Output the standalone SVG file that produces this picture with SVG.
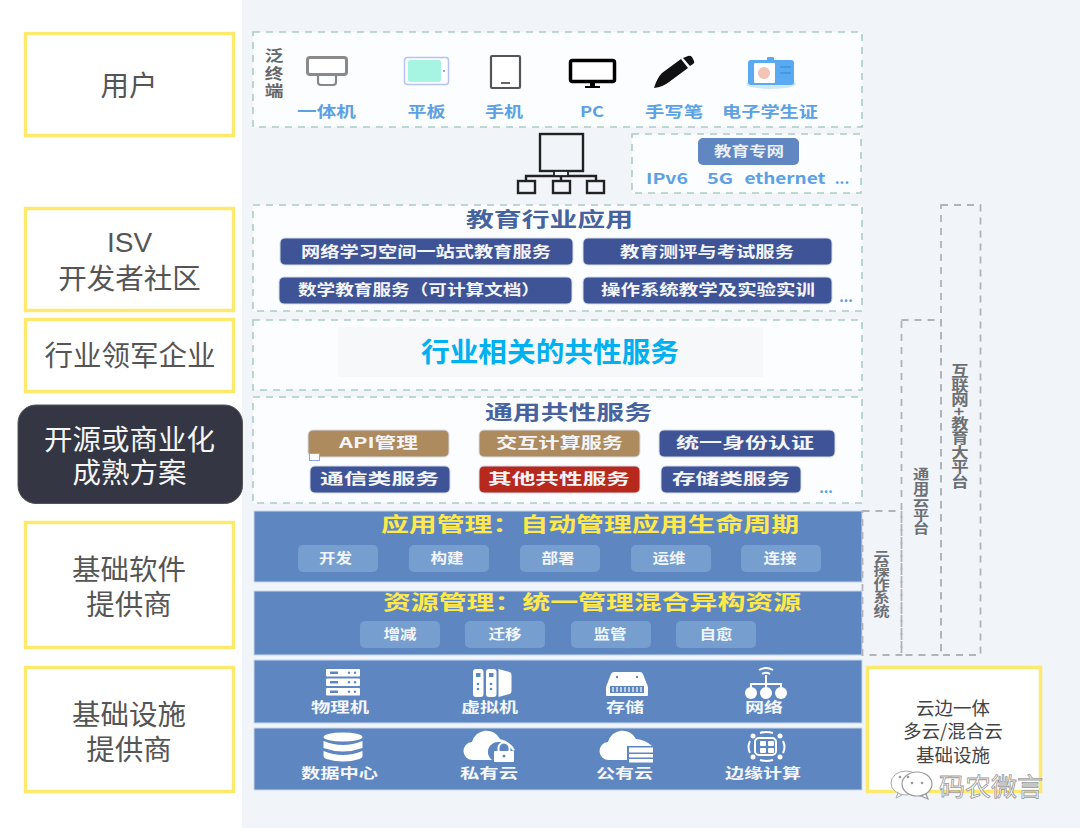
<svg xmlns="http://www.w3.org/2000/svg" width="1080" height="832" viewBox="0 0 1080 832">
<style>
text{font-family:"Noto Sans CJK SC","Noto Sans",sans-serif;text-anchor:middle;dominant-baseline:central;transform:translateY(-1.5px)}
.role{fill:#fff;stroke:#fde96c;stroke-width:3.5}
.roleT{font-size:28.5px;fill:#555}
.latin{font-family:"Liberation Sans",Arial,sans-serif;font-size:28px}
.zone{fill:#fcfdff;stroke:#a9cdc6;stroke-width:1.6;stroke-dasharray:7 6}
.side{fill:none;stroke:#b0b4b8;stroke-width:1.8;stroke-dasharray:7 6}
.sideT{font-size:13.5px;font-weight:700;fill:#6d7073;writing-mode:vertical-rl}
.band{fill:#5e87c2;stroke:#c6d6ec;stroke-width:1}
.dev{font-size:15px;font-weight:700;fill:#5ba1e3}
.head{font-size:20px;font-weight:700;fill:#46639f}
.chip{stroke:#d5dcec;stroke-width:1}
.navy{fill:#3f5496}.tan{fill:#ad8b5e}.red{fill:#b7281d}
.chipT{font-size:15px;font-weight:700;fill:#f4f5f8}
.gold{font-size:20px;font-weight:700;fill:#ffe94a}
.pill{fill:#769fd0}
.pillT{font-size:14px;font-weight:700;fill:#f2f5fa}
.infra{font-size:14px;font-weight:700;fill:#f4f6fb}
.ico{fill:#fff}
.cut{fill:#5e87c2}
.ln{fill:none;stroke:#fff;stroke-width:2}
.dots{font-size:14px;font-weight:700;fill:#5ba1e3}
</style>

<rect width="1080" height="832" fill="#fff"/>
<rect x="242" y="0" width="838" height="828" fill="#f1f5fa"/>

<!-- roles down the left edge -->
<g id="role-user"><rect class="role" x="25.5" y="33.5" width="208" height="102"/><text class="roleT" x="129" y="85">用户</text></g>
<g id="role-isv"><rect class="role" x="25.5" y="208.5" width="208" height="102"/><text class="roleT" x="129" y="243"><tspan class="latin" x="129.500">ISV</tspan><tspan x="129.500" dy="34">开发者社区</tspan></text></g>
<g id="role-leader"><rect class="role" x="25.5" y="319.5" width="208" height="72"/><text class="roleT" x="130" y="355">行业领军企业</text></g>
<g id="role-oss"><rect x="18" y="405" width="224.500" height="98.500" rx="18" fill="#343644" stroke="#555" stroke-width="1"/><text class="roleT" y="438" style="fill:#f5f5f5"><tspan x="129.500">开源或商业化</tspan><tspan x="129.500" dy="33">成熟方案</tspan></text></g>
<g id="role-software"><rect class="role" x="25.500" y="522.500" width="208" height="125"/><text class="roleT" y="568"><tspan x="129">基础软件</tspan><tspan x="129" dy="35">提供商</tspan></text></g>
<g id="role-infra"><rect class="role" x="25.500" y="667.500" width="208" height="124"/><text class="roleT" y="713"><tspan x="129">基础设施</tspan><tspan x="129" dy="35">提供商</tspan></text></g>

<!-- terminals -->
<g id="terminals">
<rect class="zone" x="253" y="32" width="609" height="95"/>
<g transform="translate(274 0) scale(1.25 1)"><text x="0" y="76" font-size="15" font-weight="700" fill="#666" letter-spacing="2.500" style="writing-mode:vertical-rl">泛终端</text></g>
<rect x="307.500" y="57.500" width="39" height="17" rx="2.500" fill="#fff" stroke="#8a8a8a" stroke-width="3"/>
<path d="M318 75v7q0 3 3 3h12q3 0 3-3v-7" fill="none" stroke="#888" stroke-width="2.200"/>
<rect x="404.500" y="57.500" width="44" height="27" rx="3" fill="#fff" stroke="#b5c2f2" stroke-width="1.500"/>
<rect x="408" y="60" width="33" height="22" rx="2" fill="#a6f5e2"/>
<circle cx="444" cy="71" r="1" fill="#6f86e6"/>
<rect x="491" y="56" width="29" height="32" rx="1" fill="#fff" stroke="#555" stroke-width="2.200"/>
<rect x="501" y="82" width="9" height="2" fill="#666"/>
<rect x="570.500" y="60.500" width="44" height="21" rx="2" fill="#fff" stroke="#000" stroke-width="3.500"/>
<path d="M590 82h5v4h5v2h-15v-2h5z" fill="#000"/>
<path d="M654 88q3-10 8-15l19-14 7 9-19 14q-6 5-15 6z" fill="#111"/>
<path d="M683 58l5-2q2-1 4 1l2 4q1 2-1 3l-3 2z" fill="#111"/>
<ellipse cx="771" cy="84" rx="25" ry="5" fill="#cfe8f8"/>
<rect x="748" y="60" width="46" height="25" rx="3" fill="#5aaaf2"/>
<rect x="767" y="57" width="7" height="4" rx="1" fill="#5aaaf2"/>
<rect x="754" y="63" width="21" height="20" rx="1" fill="#fff"/>
<circle cx="764" cy="73" r="6" fill="#f3c3b4"/>
<path d="M780 67h11M780 73h11" stroke="#2f86d8" stroke-width="1"/>
<text class="dev" x="326.500" y="112" textLength="59" lengthAdjust="spacingAndGlyphs">一体机</text>
<text class="dev" x="426.500" y="112" textLength="38" lengthAdjust="spacingAndGlyphs">平板</text>
<text class="dev" x="504" y="112" textLength="38" lengthAdjust="spacingAndGlyphs">手机</text>
<text class="dev" x="592" y="112" textLength="24" lengthAdjust="spacingAndGlyphs">PC</text>
<text class="dev" x="674" y="112" textLength="58" lengthAdjust="spacingAndGlyphs">手写笔</text>
<text class="dev" x="770" y="112" textLength="96" lengthAdjust="spacingAndGlyphs">电子学生证</text>
</g>

<!-- access network symbol -->
<g id="network-symbol" fill="none" stroke="#222" stroke-width="2.400">
<rect x="540" y="134" width="43" height="37"/>
<path d="M561 171v6M526 181v-5h70v5M561 176v5"/>
<rect x="554" y="171" width="14" height="5" fill="#f1f5fa" stroke-width="1.800"/>
<rect x="518" y="181" width="17" height="12"/><rect x="553" y="181" width="17" height="12"/><rect x="587" y="181" width="17" height="12"/>
</g>

<g id="edu-network">
<rect class="zone" x="632" y="134" width="229" height="59"/>
<rect x="698" y="138" width="101" height="27" rx="5" fill="#6087c2"/>
<text x="749" y="151" font-size="14" font-weight="700" fill="#e9eef7" textLength="70" lengthAdjust="spacingAndGlyphs">教育专网</text>
<text class="dev" x="667" y="179" textLength="42" lengthAdjust="spacingAndGlyphs">IPv6</text>
<text class="dev" x="720" y="179" textLength="26" lengthAdjust="spacingAndGlyphs">5G</text>
<text class="dev" x="785" y="179" textLength="81" lengthAdjust="spacingAndGlyphs">ethernet</text>
<text class="dev" x="842" y="179">...</text>
</g>

<!-- education applications -->
<g id="edu-apps">
<rect class="zone" x="253" y="205" width="609" height="106"/>
<text class="head" x="549.500" y="220" textLength="167" lengthAdjust="spacingAndGlyphs">教育行业应用</text>
<rect class="chip navy" x="280" y="238" width="293" height="27" rx="5"/>
<text class="chipT" x="426" y="251.500" textLength="250" lengthAdjust="spacingAndGlyphs">网络学习空间一站式教育服务</text>
<rect class="chip navy" x="583" y="238" width="249" height="27" rx="5"/>
<text class="chipT" x="707" y="251.500" textLength="174" lengthAdjust="spacingAndGlyphs">教育测评与考试服务</text>
<rect class="chip navy" x="279" y="277" width="293" height="27" rx="5"/>
<text class="chipT" x="419" y="290" textLength="242" lengthAdjust="spacingAndGlyphs">数学教育服务（可计算文档）</text>
<rect class="chip navy" x="583" y="277" width="249" height="27" rx="5"/>
<text class="chipT" x="708" y="290" textLength="214" lengthAdjust="spacingAndGlyphs">操作系统教学及实验实训</text>
<text class="dots" x="846" y="297">...</text>
</g>

<g id="industry-services">
<rect class="zone" x="253" y="320" width="609" height="70"/>
<rect x="338" y="327" width="425" height="50" fill="#f7f8fa"/>
<text x="550" y="352" font-size="27" font-weight="700" fill="#00b0f0" textLength="258" lengthAdjust="spacingAndGlyphs">行业相关的共性服务</text>
</g>

<!-- shared services -->
<g id="common-services">
<rect class="zone" x="253" y="397" width="609" height="106"/>
<text class="head" x="568.500" y="413" textLength="167" lengthAdjust="spacingAndGlyphs">通用共性服务</text>
<rect class="chip tan" x="308" y="430" width="141" height="27" rx="5"/>
<text class="chipT" x="378.500" y="443" textLength="79" lengthAdjust="spacingAndGlyphs">API管理</text>
<rect class="chip tan" x="479" y="430" width="161" height="27" rx="5"/>
<text class="chipT" x="559.500" y="443" textLength="127" lengthAdjust="spacingAndGlyphs">交互计算服务</text>
<rect class="chip navy" x="659" y="430" width="176" height="27" rx="5"/>
<text class="chipT" x="745" y="443" textLength="138" lengthAdjust="spacingAndGlyphs">统一身份认证</text>
<rect class="chip navy" x="310" y="466" width="140" height="27" rx="5"/>
<text class="chipT" x="379.500" y="479" textLength="119" lengthAdjust="spacingAndGlyphs">通信类服务</text>
<rect class="chip red" x="479" y="466" width="161" height="27" rx="5"/>
<text class="chipT" x="559" y="479" textLength="142" lengthAdjust="spacingAndGlyphs">其他共性服务</text>
<rect class="chip navy" x="661" y="466" width="140" height="27" rx="5"/>
<text class="chipT" x="731" y="479" textLength="118" lengthAdjust="spacingAndGlyphs">存储类服务</text>
<text class="dots" x="826" y="488">...</text>
<rect x="309.500" y="453.500" width="10" height="7" fill="#fff" stroke="#8fa4ee" stroke-width="1"/>
</g>

<!-- application management -->
<g id="app-management">
<rect class="band" x="254" y="511" width="608" height="71"/>
<text class="gold" x="590" y="525" textLength="418" lengthAdjust="spacingAndGlyphs">应用管理：自动管理应用生命周期</text>
<rect class="pill" x="298" y="545" width="80" height="27" rx="5"/><text class="pillT" x="335.500" y="558" textLength="33" lengthAdjust="spacingAndGlyphs">开发</text>
<rect class="pill" x="409" y="545" width="80" height="27" rx="5"/><text class="pillT" x="447" y="558" textLength="33" lengthAdjust="spacingAndGlyphs">构建</text>
<rect class="pill" x="520" y="545" width="80" height="27" rx="5"/><text class="pillT" x="558" y="558" textLength="33" lengthAdjust="spacingAndGlyphs">部署</text>
<rect class="pill" x="631" y="545" width="80" height="27" rx="5"/><text class="pillT" x="669" y="558" textLength="33" lengthAdjust="spacingAndGlyphs">运维</text>
<rect class="pill" x="741" y="545" width="80" height="27" rx="5"/><text class="pillT" x="780" y="558" textLength="33" lengthAdjust="spacingAndGlyphs">连接</text>
</g>

<!-- resource management -->
<g id="res-management">
<rect class="band" x="254" y="591" width="608" height="64"/>
<text class="gold" x="592" y="603" textLength="418" lengthAdjust="spacingAndGlyphs">资源管理：统一管理混合异构资源</text>
<rect class="pill" x="360" y="621" width="80" height="27" rx="5"/><text class="pillT" x="400" y="634" textLength="33" lengthAdjust="spacingAndGlyphs">增减</text>
<rect class="pill" x="465" y="621" width="80" height="27" rx="5"/><text class="pillT" x="505" y="634" textLength="33" lengthAdjust="spacingAndGlyphs">迁移</text>
<rect class="pill" x="571" y="621" width="80" height="27" rx="5"/><text class="pillT" x="610" y="634" textLength="33" lengthAdjust="spacingAndGlyphs">监管</text>
<rect class="pill" x="676" y="621" width="80" height="27" rx="5"/><text class="pillT" x="716" y="634" textLength="33" lengthAdjust="spacingAndGlyphs">自愈</text>
</g>

<!-- compute, storage and network -->
<g id="infra-row1">
<rect class="band" x="254" y="660" width="608" height="63"/>
<g class="ico">
<rect x="326" y="669" width="34" height="7.500" rx="1"/><rect x="326" y="678.500" width="34" height="7.500" rx="1"/><rect x="326" y="688" width="34" height="7.500" rx="1"/>
<rect x="473" y="669" width="10.500" height="28" rx="3"/><rect x="486" y="669" width="10.500" height="28" rx="3"/><path d="M498.500 669l11 3q2 .5 2 3v16q0 2.500-2 3l-11 3z"/>
<path d="M614 672h26q2 0 3 2l5 13v8q0 1-1 1h-40q-1 0-1-1v-8l5-13q1-2 3-2z"/>
</g>
<g class="cut">
<rect x="330" y="671.500" width="8" height="2.500"/><rect x="330" y="681" width="8" height="2.500"/><rect x="330" y="690.500" width="8" height="2.500"/>
<circle cx="349" cy="672.700" r="1.200"/><circle cx="355" cy="672.700" r="1.200"/><circle cx="349" cy="682.200" r="1.200"/><circle cx="355" cy="682.200" r="1.200"/><circle cx="349" cy="691.700" r="1.200"/><circle cx="355" cy="691.700" r="1.200"/>
<rect x="476" y="673" width="4.500" height="4"/><rect x="489" y="673" width="4.500" height="4"/>
<circle cx="478" cy="684" r="1.300"/><circle cx="478" cy="689" r="1.300"/><circle cx="491" cy="684" r="1.300"/><circle cx="491" cy="689" r="1.300"/>
<rect x="610" y="686" width="34" height="7"/>
<circle cx="617" cy="677" r="1.200"/><circle cx="637" cy="677" r="1.200"/>
</g>
<path d="M613 687v5M617 687v5M621 687v5M625 687v5M629 687v5M633 687v5M637 687v5M641 687v5" stroke="#fff" stroke-width="1.200"/>
<g class="ico"><circle cx="751" cy="693" r="6"/><circle cx="766" cy="693" r="6"/><circle cx="781" cy="693" r="6"/></g>
<path d="M751 689v-5h30v5M766 689v-14" class="ln"/>
<path d="M759 670q7-4 14 0" class="ln" stroke-width="1.600"/>
<path d="M762 674q4-2.500 8 0" class="ln" stroke-width="1.600"/>
<text class="infra" x="340" y="707" textLength="58" lengthAdjust="spacingAndGlyphs">物理机</text>
<text class="infra" x="489.500" y="707" textLength="57" lengthAdjust="spacingAndGlyphs">虚拟机</text>
<text class="infra" x="625" y="707" textLength="38" lengthAdjust="spacingAndGlyphs">存储</text>
<text class="infra" x="764" y="707" textLength="38" lengthAdjust="spacingAndGlyphs">网络</text>
</g>

<!-- hosting locations -->
<g id="infra-row2">
<rect class="band" x="254" y="728" width="608" height="62"/>
<g class="ico">
<ellipse cx="343" cy="737" rx="19.500" ry="4.500"/>
<path d="M323.500 741q19.500 8 39 0v7q-19.500 7-39 0zM323.500 751q19.500 8 39 0v5q0 2-3 3-16 5-33 0-3-1-3-3z"/>
<!-- private cloud with padlock -->
<path d="M473 760a9 9 0 0 1 -1-18 15 15 0 0 1 28-3q10 2 15 11l-2 1q-6-9-14-9a10 10 0 0 0-7 18z"/>
<rect x="494" y="751" width="20" height="11" rx="1"/>
<!-- public cloud with server bars -->
<path d="M609 760a9 9 0 0 1 -1-18 15 15 0 0 1 28-3q10 1 16 7h-25v14z"/>
<rect x="629" y="747.500" width="24" height="5"/><rect x="629" y="754" width="24" height="3.500"/><rect x="629" y="759" width="24" height="3.500"/>
<!-- edge node -->
<rect x="760" y="741" width="6" height="5" rx="1"/><rect x="768" y="741" width="6" height="5" rx="1"/><rect x="760" y="748" width="6" height="5" rx="1"/><rect x="768" y="748" width="6" height="5" rx="1"/>
<circle cx="753" cy="736" r="2.500"/><circle cx="780" cy="736" r="2.500"/><circle cx="753" cy="757" r="2.500"/><circle cx="780" cy="757" r="2.500"/>
</g>
<path d="M498.500 751v-3a5.500 5.500 0 0 1 11 0v3" class="ln"/>
<circle class="cut" cx="504" cy="756" r="1.500"/>
<rect x="755" y="738" width="21" height="17" rx="4" class="ln" stroke-width="1.500"/>
<path d="M760 733q6-2 13 0M760 760q6 2 13 0M750 741q-3 6 0 12M783 741q3 6 0 12" class="ln" stroke-width="2.500"/>
<text class="infra" x="339.500" y="773" textLength="77" lengthAdjust="spacingAndGlyphs">数据中心</text>
<text class="infra" x="489" y="773" textLength="58" lengthAdjust="spacingAndGlyphs">私有云</text>
<text class="infra" x="624.500" y="773" textLength="57" lengthAdjust="spacingAndGlyphs">公有云</text>
<text class="infra" x="763" y="773" textLength="76" lengthAdjust="spacingAndGlyphs">边缘计算</text>
</g>

<!-- platform spans on the right -->
<g id="span-os"><rect class="side" x="862.500" y="511" width="39" height="144"/><g transform="translate(881.500 0) scale(1.2 1)"><text class="sideT" x="0" y="585">云操作系统</text></g></g>
<g id="span-cloud"><rect class="side" x="901.500" y="320" width="39.500" height="335"/><g transform="translate(921 0) scale(1.2 1)"><text class="sideT" x="0" y="502.500">通用云平台</text></g></g>
<g id="span-edu"><rect class="side" x="941" y="205" width="39.500" height="450"/><g transform="translate(960 0) scale(1.2 1)"><text class="sideT" x="0" y="427.500" style="font-size:14.500px">互联网+教育大平台</text></g></g>

<g id="cloud-edge">
<rect class="role" x="867.500" y="667.500" width="173" height="124"/>
<text y="708" font-size="18.500" fill="#444"><tspan x="953">云边一体</tspan><tspan x="953" dy="23.500">多云/混合云</tspan><tspan x="953" dy="23.500">基础设施</tspan></text>
</g>

<!-- publisher mark -->
<g id="publisher-mark">
<ellipse cx="906" cy="783" rx="15" ry="12" fill="#fff" stroke="#aaa" stroke-width="1"/>
<path d="M898 793l-2 5 6-3z" fill="#fff" stroke="#aaa" stroke-width="1"/>
<ellipse cx="917" cy="784" rx="15" ry="12" fill="#fff" stroke="#999" stroke-width="1.200"/>
<path d="M926 794l2 5-7-3z" fill="#fff" stroke="#999" stroke-width="1.200"/>
<circle cx="900" cy="777" r="1.300" fill="#999"/><circle cx="908" cy="777" r="1.300" fill="#999"/><circle cx="912" cy="783" r="1.300" fill="#999"/><circle cx="922" cy="783" r="1.300" fill="#999"/>
<text x="991" y="786.500" font-size="25" fill="#fff" stroke="#9a9a9a" stroke-width="0.800" textLength="104" lengthAdjust="spacingAndGlyphs">码农微言</text>
</g>
</svg>
